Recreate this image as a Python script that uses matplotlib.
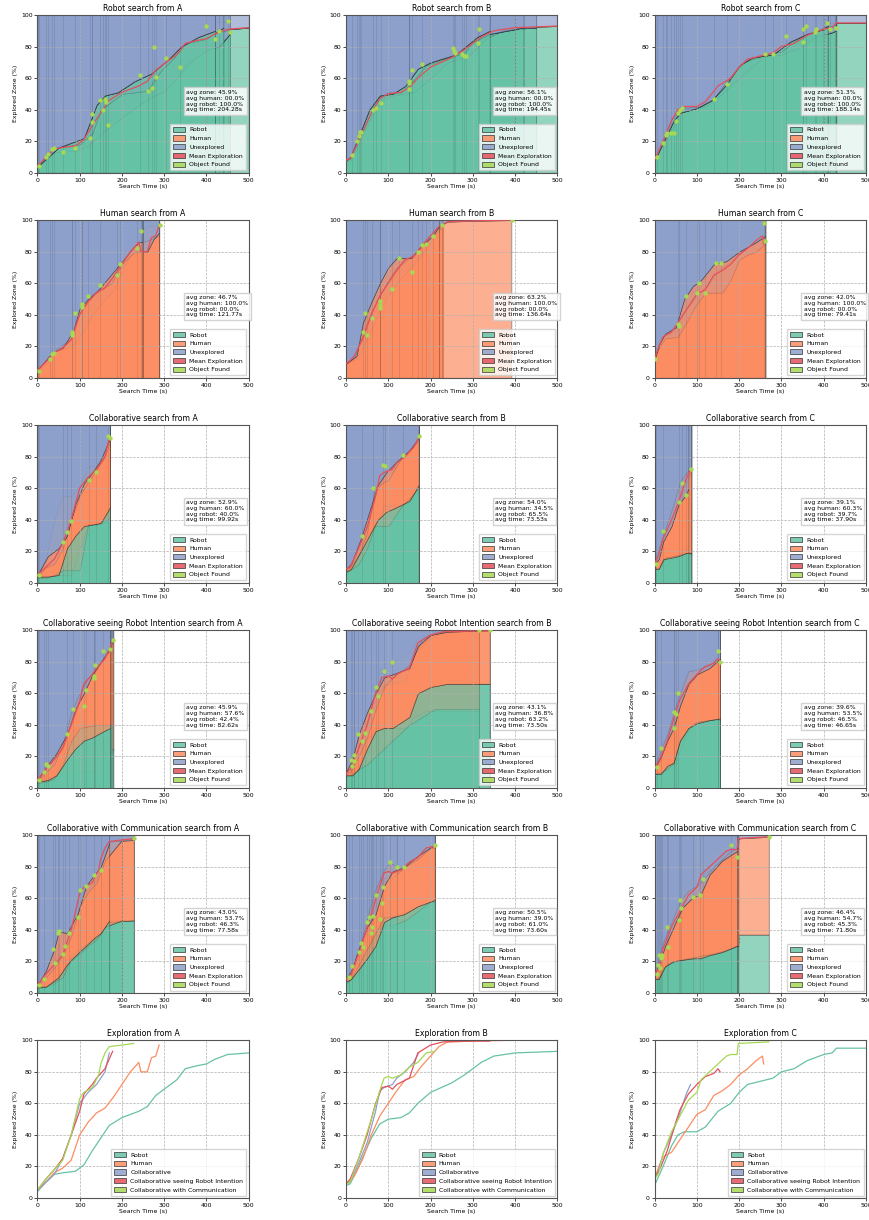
import matplotlib.pyplot as plt
from matplotlib.patches import Patch
from matplotlib.colors import to_rgba

GREEN = "#66c2a5"
ORANGE = "#fc8d62"
BLUE = "#8da0cb"
RED = "#e5505a"
LIME = "#a6d854"

STARTS = ["A", "B", "C"]
CONDITIONS = ["Robot", "Human", "Collaborative", "Collaborative seeing Robot Intention",
              "Collaborative with Communication"]

# summary box values, one row per condition, columns A, B, C
AVG_ZONE = [[45.9, 56.1, 51.3], [46.7, 63.2, 42.0], [52.9, 54.0, 39.1],
            [45.9, 43.1, 39.6], [43.0, 50.5, 46.4]]
AVG_HUMAN = [[0.0, 0.0, 0.0], [100.0, 100.0, 100.0], [60.0, 34.5, 60.3],
             [57.6, 36.8, 53.5], [53.7, 39.0, 54.7]]
AVG_ROBOT = [[100.0, 100.0, 100.0], [0.0, 0.0, 0.0], [40.0, 65.5, 39.7],
             [42.4, 63.2, 46.5], [46.3, 61.0, 45.3]]
AVG_TIME = [[204.28, 194.45, 188.14], [121.77, 136.64, 79.41], [99.92, 73.53, 37.90],
            [82.62, 73.50, 46.65], [77.58, 73.60, 71.80]]

# ---- mean exploration curves (time, explored %) ----
MEAN_ROBOT_A = [(0, 4), (20, 10), (40, 15), (60, 16), (90, 17), (110, 21), (130, 30), (150, 38),
                (170, 46), (200, 51), (240, 55), (260, 58), (280, 65), (300, 69), (330, 75),
                (350, 82), (380, 84), (400, 85), (420, 88), (440, 90), (450, 91), (500, 92)]
MEAN_ROBOT_B = [(0, 8), (10, 9), (30, 20), (60, 38), (80, 47), (100, 50), (130, 51), (150, 54),
                (170, 60), (200, 67), (250, 73), (280, 78), (300, 82), (320, 86), (350, 90),
                (400, 92), (500, 93)]
MEAN_ROBOT_C = [(0, 8), (20, 20), (40, 33), (55, 40), (70, 42), (100, 42), (120, 45), (150, 55),
                (180, 60), (200, 67), (220, 72), (250, 74), (280, 76), (300, 80), (330, 82),
                (360, 87), (400, 91), (420, 92), (430, 95), (500, 95)]
MEAN_HUMAN_A = [(0, 5), (20, 10), (40, 16), (60, 19), (80, 24), (90, 32), (100, 40), (120, 48),
                (140, 54), (160, 57), (180, 64), (200, 72), (220, 80), (240, 86), (245, 80),
                (260, 80), (270, 89), (280, 90), (288, 97)]
MEAN_HUMAN_B = [(0, 9), (10, 11), (20, 14), (40, 25), (60, 40), (80, 52), (100, 60), (120, 68),
                (140, 75), (160, 77), (180, 84), (200, 90), (220, 96), (240, 99), (300, 99.5),
                (390, 100)]
MEAN_HUMAN_C = [(0, 12), (10, 20), (20, 26), (40, 29), (60, 37), (80, 45), (100, 53), (120, 56),
                (140, 65), (160, 68), (180, 72), (200, 78), (220, 82), (240, 87), (255, 90),
                (258, 85)]
MEAN_COLLAB_A = [(0, 5), (20, 10), (40, 15), (60, 25), (80, 40), (100, 60), (120, 67), (140, 72),
                 (160, 80), (170, 92)]
MEAN_COLLAB_B = [(0, 9), (10, 10), (30, 22), (50, 35), (70, 55), (80, 68), (90, 70), (100, 71),
                 (110, 72), (120, 76), (140, 80), (160, 86), (172, 92)]
MEAN_COLLAB_C = [(0, 12), (10, 18), (20, 28), (40, 40), (55, 50), (65, 58), (75, 66), (85, 72)]
MEAN_RI_A = [(0, 5), (20, 12), (40, 18), (60, 25), (80, 40), (100, 55), (110, 66), (130, 72),
             (140, 76), (160, 82), (178, 93)]
MEAN_RI_B = [(0, 9), (10, 12), (30, 25), (50, 40), (70, 60), (85, 70), (100, 71), (110, 69),
             (120, 72), (150, 76), (170, 92), (200, 97), (230, 99), (300, 99.5), (340, 99.5)]
MEAN_RI_C = [(0, 12), (15, 20), (30, 30), (50, 48), (60, 56), (80, 66), (100, 72), (120, 77),
             (140, 79), (150, 82), (155, 80)]
MEAN_COMM_A = [(0, 5), (20, 12), (40, 18), (60, 24), (80, 40), (100, 63), (110, 67), (130, 70),
               (145, 78), (150, 85), (160, 92), (170, 96), (200, 97), (228, 98)]
MEAN_COMM_B = [(0, 9), (10, 10), (30, 25), (60, 50), (80, 68), (90, 76), (100, 77), (110, 76),
               (130, 78), (150, 83), (170, 86), (190, 92), (210, 93)]
MEAN_COMM_C = [(0, 12), (10, 16), (20, 28), (40, 42), (60, 52), (80, 62), (100, 67), (110, 75),
               (130, 80), (150, 85), (170, 90), (180, 91), (195, 91), (198, 98), (270, 99)]

# ---- object found points (time, explored %) ----
FOUND_ROBOT_A = [(3, 4), (20, 10), (25, 12), (35, 15), (40, 16), (60, 13), (90, 16), (125, 22),
                 (130, 32), (130, 37), (147, 46), (155, 40), (160, 47), (163, 45), (167, 30),
                 (243, 62), (262, 52), (272, 54), (275, 80), (280, 61), (305, 73), (337, 67),
                 (400, 93), (420, 85), (430, 90), (450, 96), (455, 89)]
FOUND_ROBOT_B = [(15, 11), (25, 20), (30, 23), (33, 26), (36, 26), (65, 40), (72, 41), (82, 44),
                 (148, 53), (148, 57), (150, 58), (157, 65), (180, 69), (253, 79), (255, 77),
                 (258, 76), (275, 75), (280, 74), (283, 74), (313, 82), (315, 91)]
FOUND_ROBOT_C = [(5, 10), (20, 19), (28, 24), (30, 25), (40, 25), (45, 25), (50, 33), (55, 38),
                 (60, 40), (65, 41), (140, 47), (172, 56), (262, 75), (280, 75), (310, 87),
                 (350, 83), (352, 91), (358, 93), (380, 89), (382, 91), (407, 95), (415, 91),
                 (428, 92)]
FOUND_HUMAN_A = [(3, 4), (30, 12), (35, 15), (40, 16), (82, 27), (82, 29), (90, 41), (105, 45),
                 (106, 47), (120, 52), (148, 59), (188, 65), (195, 72), (235, 82), (245, 93),
                 (290, 97)]
FOUND_HUMAN_B = [(40, 29), (45, 41), (50, 27), (62, 38), (80, 44), (80, 46), (80, 49), (110, 56),
                 (125, 76), (155, 67), (170, 80), (180, 84), (190, 85), (205, 90), (228, 97),
                 (393, 100)]
FOUND_HUMAN_C = [(0, 12), (55, 34), (58, 33), (75, 52), (100, 54), (105, 60), (120, 54),
                 (145, 73), (158, 73), (258, 98), (262, 87)]
FOUND_COLLAB_A = [(3, 5), (60, 26), (70, 32), (80, 39), (122, 65), (138, 70), (168, 93), (172, 92)]
FOUND_COLLAB_B = [(38, 30), (65, 60), (88, 75), (92, 74), (135, 81), (172, 93)]
FOUND_COLLAB_C = [(3, 12), (20, 33), (57, 51), (65, 63), (75, 56), (85, 72)]
FOUND_RI_A = [(3, 5), (15, 10), (20, 15), (25, 14), (70, 34), (85, 50), (110, 52), (115, 62),
              (135, 70), (135, 71), (137, 78), (155, 87), (172, 88), (178, 94)]
FOUND_RI_B = [(12, 18), (15, 14), (18, 17), (20, 21), (28, 34), (38, 30), (45, 35), (60, 49),
              (72, 64), (75, 58), (90, 74), (110, 80), (315, 100), (340, 100)]
FOUND_RI_C = [(5, 13), (15, 25), (45, 38), (45, 48), (50, 47), (55, 60), (150, 87), (155, 80)]
FOUND_COMM_A = [(3, 5), (15, 9), (38, 28), (42, 19), (48, 38), (50, 39), (60, 25), (65, 30),
                (75, 38), (95, 48), (100, 65), (115, 68), (133, 75), (150, 78), (228, 98)]
FOUND_COMM_B = [(8, 10), (15, 17), (30, 26), (35, 32), (40, 29), (50, 45), (55, 48), (60, 38),
                (62, 42), (65, 49), (70, 62), (80, 47), (85, 57), (88, 67), (103, 83), (120, 80),
                (138, 80), (210, 94)]
FOUND_COMM_C = [(5, 12), (8, 18), (10, 24), (12, 16), (15, 22), (18, 24), (30, 42), (32, 29),
                (58, 46), (60, 59), (62, 54), (92, 61), (108, 62), (115, 72), (180, 94), (195, 86),
                (270, 99)]

# ---- individual runs: (time, explored %) for single-agent, (time, explored %, robot %) for teams ----
RUNS_ROBOT_A = [
    [(0, 4), (40, 17), (80, 17), (100, 25), (120, 40), (150, 50), (170, 55), (250, 70), (300, 75),
     (330, 85), (370, 93), (400, 95), (450, 96)],
    [(0, 4), (40, 15), (100, 19), (130, 33), (160, 47), (200, 52), (240, 55), (280, 65), (320, 77),
     (370, 84), (420, 88), (455, 91), (500, 92)],
    [(0, 3), (40, 13), (90, 14), (120, 17), (160, 27), (200, 35), (250, 45), (300, 52), (330, 60),
     (360, 70), (400, 78), (430, 80), (455, 88)],
    [(0, 4), (40, 16), (100, 18), (130, 25), (150, 40), (200, 50), (260, 52), (290, 64), (320, 72),
     (350, 82), (400, 85), (440, 92)],
    [(0, 4), (50, 16), (110, 22), (140, 43), (160, 49), (190, 51), (230, 58), (270, 63), (310, 72),
     (340, 80), (380, 86), (420, 90)],
]
RUNS_ROBOT_B = [
    [(0, 8), (10, 9), (30, 22), (60, 40), (85, 50), (130, 52), (160, 62), (180, 70), (210, 70),
     (250, 77), (290, 88), (320, 91), (360, 92), (500, 93)],
    [(0, 8), (10, 9), (30, 20), (60, 38), (80, 46), (100, 50), (140, 51), (170, 57), (200, 67),
     (250, 73), (290, 80), (330, 87), (380, 91), (450, 92)],
    [(0, 7), (10, 8), (35, 22), (65, 38), (90, 47), (110, 49), (160, 51), (200, 60), (240, 70),
     (290, 74), (330, 85), (370, 90), (420, 92)],
    [(0, 8), (10, 9), (30, 22), (60, 39), (80, 48), (100, 51), (130, 51), (150, 56), (190, 68),
     (230, 72), (280, 76), (300, 83), (340, 88), (400, 91)],
    [(0, 8), (10, 10), (30, 23), (55, 40), (80, 49), (110, 50), (140, 55), (170, 66), (200, 70),
     (260, 75), (310, 86), (340, 90)],
]
RUNS_ROBOT_C = [
    [(0, 8), (20, 20), (40, 35), (55, 41), (100, 42), (130, 50), (160, 60), (190, 62), (220, 73),
     (260, 75), (300, 86), (340, 92), (380, 95), (430, 95), (500, 95)],
    [(0, 8), (20, 19), (40, 32), (60, 40), (110, 42), (140, 50), (170, 58), (200, 66), (230, 73),
     (270, 75), (300, 80), (330, 84), (360, 88), (400, 92), (430, 94)],
    [(0, 8), (20, 18), (45, 30), (65, 40), (120, 42), (160, 50), (190, 58), (200, 60), (260, 74),
     (300, 75), (340, 79), (380, 86), (420, 89), (428, 90)],
    [(0, 9), (20, 21), (40, 34), (60, 41), (110, 42), (140, 47), (170, 58), (210, 70), (250, 74),
     (300, 77), (340, 85), (380, 90), (410, 93)],
    [(0, 8), (25, 22), (45, 33), (60, 38), (100, 41), (135, 46), (170, 56), (200, 68), (230, 73),
     (280, 75), (320, 83), (360, 88), (400, 91)],
]
RUNS_HUMAN_A = [
    [(0, 5), (30, 15), (45, 30), (60, 44), (85, 44), (100, 48), (120, 52), (150, 58), (180, 66),
     (200, 74), (230, 82), (245, 93), (260, 96), (288, 97)],
    [(0, 5), (25, 12), (40, 17), (70, 20), (85, 28), (100, 42), (120, 50), (140, 55), (170, 60),
     (195, 72), (220, 80), (245, 86), (260, 87), (288, 90)],
    [(0, 4), (25, 10), (40, 17), (70, 19), (90, 22), (110, 30), (130, 40), (160, 50), (180, 55),
     (200, 68), (220, 78), (240, 80), (260, 80), (275, 88), (288, 92)],
    [(0, 5), (30, 14), (45, 18), (80, 25), (95, 38), (110, 46), (130, 52), (150, 56), (175, 60),
     (200, 72), (230, 80), (250, 80)],
    [(0, 5), (35, 16), (60, 19), (85, 30), (100, 44), (120, 50), (145, 56), (170, 64), (195, 72),
     (225, 82), (240, 86), (248, 86)],
]
RUNS_HUMAN_B = [
    [(0, 9), (20, 13), (40, 30), (60, 45), (80, 55), (100, 66), (120, 73), (140, 77), (160, 80),
     (180, 88), (200, 92), (220, 97), (230, 98)],
    [(0, 9), (20, 12), (40, 24), (60, 38), (80, 50), (100, 58), (120, 68), (140, 75), (170, 80),
     (200, 88), (230, 96)],
    [(0, 9), (25, 12), (45, 22), (60, 30), (80, 44), (100, 52), (120, 60), (140, 66), (160, 72),
     (190, 82), (210, 90), (228, 97)],
    [(0, 9), (20, 13), (40, 28), (60, 42), (80, 52), (100, 62), (120, 70), (150, 76), (180, 84),
     (200, 90), (220, 96), (240, 99), (300, 99.5), (390, 100)],
    [(0, 9), (25, 14), (40, 35), (60, 48), (80, 60), (100, 70), (120, 76), (155, 76), (180, 84),
     (205, 90), (220, 96)],
]
RUNS_HUMAN_C = [
    [(0, 12), (10, 20), (20, 26), (50, 28), (70, 40), (90, 55), (110, 60), (140, 70), (160, 75),
     (190, 80), (220, 88), (245, 92), (258, 98)],
    [(0, 12), (10, 20), (20, 26), (50, 30), (70, 42), (100, 52), (130, 60), (150, 68), (180, 74),
     (200, 80), (230, 84), (250, 88), (262, 87)],
    [(0, 12), (10, 19), (25, 25), (55, 26), (75, 35), (95, 45), (120, 54), (160, 54), (180, 62),
     (200, 75), (220, 78), (240, 80), (262, 85)],
    [(0, 12), (12, 22), (25, 28), (50, 32), (70, 50), (90, 58), (110, 62), (140, 72), (170, 74),
     (200, 80), (240, 86), (262, 90)],
]
RUNS_COLLAB_A = [
    [(0, 5, 3), (20, 15, 4), (40, 20, 5), (60, 25, 8), (80, 42, 15), (100, 60, 22), (120, 70, 30),
     (140, 74, 37), (160, 82, 40), (172, 93, 48)],
    [(0, 5, 4), (20, 16, 4), (40, 40, 5), (60, 55, 5), (80, 55, 5), (100, 62, 22), (120, 74, 37),
     (140, 74, 37), (160, 85, 38), (172, 92, 42)],
    [(0, 4, 3), (20, 10, 3), (40, 12, 5), (60, 22, 8), (80, 40, 8), (100, 55, 8), (120, 64, 37),
     (140, 72, 37), (160, 80, 40), (172, 90, 40)],
    [(0, 5, 4), (25, 17, 4), (50, 22, 5), (70, 30, 22), (90, 50, 30), (110, 63, 36), (130, 70, 37),
     (150, 78, 38), (172, 92, 48)],
]
RUNS_COLLAB_B = [
    [(0, 9, 7), (10, 10, 8), (30, 20, 15), (50, 35, 25), (70, 60, 36), (90, 72, 36), (110, 74, 38),
     (130, 80, 45), (150, 84, 50), (172, 92, 62)],
    [(0, 9, 7), (10, 10, 8), (30, 22, 18), (50, 38, 30), (70, 55, 36), (90, 68, 49), (110, 70, 49),
     (130, 78, 49), (150, 85, 53), (172, 91, 61)],
    [(0, 8, 7), (10, 10, 8), (30, 18, 12), (50, 32, 22), (68, 60, 36), (90, 64, 36), (100, 65, 36),
     (130, 79, 48), (172, 90, 60)],
    [(0, 9, 7), (12, 12, 9), (35, 28, 20), (55, 45, 30), (75, 62, 40), (95, 70, 45), (120, 77, 48),
     (150, 84, 52), (172, 92, 62)],
]
RUNS_COLLAB_C = [
    [(0, 12, 9), (10, 20, 9), (20, 30, 16), (40, 40, 17), (55, 52, 18), (65, 62, 19), (75, 68, 19),
     (87, 72, 18)],
    [(0, 11, 9), (10, 18, 9), (20, 28, 14), (40, 38, 17), (57, 51, 17), (70, 60, 22), (87, 72, 18)],
    [(0, 12, 9), (10, 22, 9), (25, 34, 16), (45, 50, 17), (60, 64, 18), (75, 70, 19), (87, 73, 19)],
    [(0, 12, 9), (10, 15, 9), (20, 26, 15), (40, 36, 16), (57, 50, 17), (75, 56, 19), (80, 60, 19)],
]
RUNS_RI_A = [
    [(0, 5, 4), (20, 16, 4), (40, 20, 5), (60, 30, 9), (80, 45, 10), (100, 60, 10), (120, 74, 10),
     (140, 76, 10), (160, 85, 20), (180, 93, 25)],
    [(0, 5, 4), (20, 12, 5), (40, 18, 8), (60, 25, 20), (80, 40, 35), (100, 55, 40), (120, 66, 40),
     (140, 76, 40), (160, 82, 40), (178, 94, 40)],
    [(0, 4, 3), (20, 10, 4), (40, 15, 6), (60, 28, 15), (80, 48, 30), (100, 60, 38), (120, 70, 39),
     (140, 75, 40), (160, 84, 40), (175, 90, 40)],
    [(0, 5, 4), (25, 15, 5), (45, 22, 8), (70, 34, 18), (90, 50, 25), (110, 60, 30), (130, 72, 32),
     (150, 80, 35), (172, 88, 38)],
]
RUNS_RI_B = [
    [(0, 9, 7), (10, 12, 10), (30, 32, 10), (50, 47, 20), (70, 63, 40), (90, 72, 45), (110, 80, 50),
     (150, 86, 50), (170, 95, 60), (210, 98, 64), (240, 100, 66), (340, 100, 66)],
    [(0, 9, 7), (10, 11, 8), (30, 25, 12), (50, 40, 30), (70, 56, 38), (90, 66, 38), (110, 66, 38),
     (140, 68, 38), (160, 85, 45), (190, 93, 49), (230, 99, 49), (315, 100, 49)],
    [(0, 9, 8), (10, 10, 8), (30, 20, 12), (50, 32, 15), (70, 50, 20), (90, 64, 25), (110, 70, 30),
     (150, 78, 40), (180, 94, 45), (210, 98, 50), (260, 100, 50), (315, 100, 50)],
    [(0, 10, 8), (15, 18, 8), (30, 34, 12), (50, 48, 25), (70, 60, 36), (90, 70, 38), (110, 72, 38),
     (150, 76, 45), (170, 90, 60), (200, 97, 64), (240, 99, 66), (340, 100, 66)],
]
RUNS_RI_C = [
    [(0, 12, 9), (15, 22, 9), (30, 35, 12), (50, 50, 20), (60, 58, 35), (80, 72, 40), (100, 75, 42),
     (120, 78, 43), (140, 82, 43), (155, 87, 44)],
    [(0, 11, 9), (15, 18, 9), (30, 28, 15), (50, 46, 15), (70, 60, 32), (90, 68, 40), (110, 76, 42),
     (130, 77, 43), (155, 80, 43)],
    [(0, 12, 9), (15, 25, 10), (30, 34, 12), (45, 48, 16), (60, 60, 30), (80, 74, 38), (100, 75, 42),
     (130, 78, 43), (150, 83, 44)],
    [(0, 12, 9), (15, 20, 9), (30, 30, 14), (45, 38, 16), (60, 52, 30), (80, 66, 38), (100, 72, 41),
     (130, 76, 43), (155, 82, 44)],
]
RUNS_COMM_A = [
    [(0, 5, 4), (20, 15, 4), (40, 25, 5), (60, 33, 12), (80, 48, 22), (100, 65, 28), (120, 68, 34),
     (140, 73, 35), (155, 86, 40), (170, 96, 46), (200, 97, 46), (228, 98, 46)],
    [(0, 5, 4), (20, 12, 4), (40, 18, 6), (60, 25, 14), (80, 40, 24), (100, 62, 28), (120, 66, 32),
     (140, 72, 35), (150, 80, 37), (170, 96, 45), (228, 97, 46)],
    [(0, 4, 3), (20, 10, 4), (40, 16, 7), (60, 24, 10), (80, 36, 22), (100, 55, 25), (120, 64, 30),
     (140, 70, 34), (160, 84, 42), (200, 97, 46)],
    [(0, 5, 4), (20, 14, 4), (40, 28, 8), (50, 39, 10), (70, 38, 18), (95, 50, 25), (115, 68, 30),
     (135, 75, 35), (150, 80, 38), (170, 95, 46)],
]
RUNS_COMM_B = [
    [(0, 9, 7), (10, 10, 8), (30, 25, 15), (50, 45, 30), (70, 62, 45), (90, 76, 50), (110, 77, 50),
     (130, 78, 50), (150, 82, 52), (170, 86, 55), (190, 92, 57), (210, 93, 59)],
    [(0, 8, 7), (10, 10, 8), (30, 22, 12), (50, 40, 25), (70, 55, 40), (90, 73, 43), (110, 73, 43),
     (140, 80, 46), (170, 85, 52), (200, 92, 58), (210, 92, 58)],
    [(0, 9, 7), (10, 11, 8), (30, 26, 18), (50, 48, 28), (70, 66, 38), (90, 78, 48), (103, 83, 48),
     (120, 80, 49)],
    [(0, 9, 7), (12, 14, 9), (30, 28, 15), (50, 42, 22), (70, 50, 30), (90, 68, 45), (110, 77, 48),
     (138, 80, 50), (170, 87, 55), (210, 94, 59)],
]
RUNS_COMM_C = [
    [(0, 12, 9), (10, 20, 9), (20, 30, 18), (40, 48, 20), (60, 60, 21), (80, 70, 22), (100, 80, 24),
     (120, 86, 25), (150, 92, 28), (180, 94, 30), (198, 95, 30), (200, 98, 37), (270, 99, 37)],
    [(0, 11, 9), (10, 16, 10), (20, 25, 15), (40, 38, 20), (60, 50, 21), (80, 58, 22), (100, 64, 22),
     (120, 76, 24), (150, 82, 26), (180, 86, 28), (198, 86, 30)],
    [(0, 12, 9), (10, 22, 9), (20, 32, 16), (40, 45, 20), (60, 58, 21), (80, 65, 22), (100, 68, 23),
     (115, 72, 24), (140, 80, 25), (180, 90, 28), (198, 92, 30)],
    [(0, 12, 9), (10, 18, 9), (25, 30, 17), (45, 42, 20), (65, 54, 21), (92, 61, 22), (108, 62, 22),
     (130, 75, 24), (160, 84, 26), (195, 90, 30)],
]

RUNS = [[RUNS_ROBOT_A, RUNS_ROBOT_B, RUNS_ROBOT_C],
        [RUNS_HUMAN_A, RUNS_HUMAN_B, RUNS_HUMAN_C],
        [RUNS_COLLAB_A, RUNS_COLLAB_B, RUNS_COLLAB_C],
        [RUNS_RI_A, RUNS_RI_B, RUNS_RI_C],
        [RUNS_COMM_A, RUNS_COMM_B, RUNS_COMM_C]]
MEANS = [[MEAN_ROBOT_A, MEAN_ROBOT_B, MEAN_ROBOT_C],
         [MEAN_HUMAN_A, MEAN_HUMAN_B, MEAN_HUMAN_C],
         [MEAN_COLLAB_A, MEAN_COLLAB_B, MEAN_COLLAB_C],
         [MEAN_RI_A, MEAN_RI_B, MEAN_RI_C],
         [MEAN_COMM_A, MEAN_COMM_B, MEAN_COMM_C]]
FOUND = [[FOUND_ROBOT_A, FOUND_ROBOT_B, FOUND_ROBOT_C],
         [FOUND_HUMAN_A, FOUND_HUMAN_B, FOUND_HUMAN_C],
         [FOUND_COLLAB_A, FOUND_COLLAB_B, FOUND_COLLAB_C],
         [FOUND_RI_A, FOUND_RI_B, FOUND_RI_C],
         [FOUND_COMM_A, FOUND_COMM_B, FOUND_COMM_C]]
PANEL_TITLES = ["Robot search", "Human search", "Collaborative search",
                "Collaborative seeing Robot Intention search", "Collaborative with Communication search"]
LINE_COLORS = [GREEN, ORANGE, BLUE, RED, LIME]

FS = 4.4
ALPHA = 0.7
EDGE = (0.12, 0.12, 0.12, 0.5)

plt.rcParams['font.family'] = 'DejaVu Sans'
fig, axes = plt.subplots(6, 3, figsize=(8.69, 12.2), dpi=100)
fig.subplots_adjust(left=0.043, right=0.9965, top=0.9877, bottom=0.018, wspace=0.46, hspace=0.30)


def style_axis(ax, title):
    ax.set_xlim(0, 500)
    ax.set_ylim(0, 100)
    ax.set_xticks(range(0, 501, 100))
    ax.set_yticks(range(0, 101, 20))
    ax.set_title(title, fontsize=5.6, pad=3)
    ax.set_xlabel("Search Time (s)", fontsize=FS, labelpad=1)
    ax.set_ylabel("Explored Zone (%)", fontsize=FS, labelpad=2)
    ax.tick_params(labelsize=FS, length=2, width=0.5, pad=1.5)
    ax.grid(True, linestyle="--", color="#b0b0b0", linewidth=0.5)
    for s in ax.spines.values():
        s.set_linewidth(0.8)
        s.set_color("#555555")


def add_legend(ax, colors, labels):
    handles = [Patch(facecolor=to_rgba(c, 0.85), edgecolor="#333333", linewidth=0.5, label=l)
               for c, l in zip(colors, labels)]
    ax.legend(handles=handles, loc="lower right", fontsize=FS, handlelength=2.0, handleheight=0.9,
              borderpad=0.5, labelspacing=0.5, handletextpad=0.7, borderaxespad=0.4,
              fancybox=False, framealpha=0.8, edgecolor="#cccccc")


for row in range(5):
    for col in range(3):
        ax = axes[row, col]
        for run in RUNS[row][col]:
            t = [p[0] for p in run]
            e = [p[1] for p in run]
            if row == 0:
                r = e
            elif row == 1:
                r = [0] * len(run)
            else:
                r = [p[2] for p in run]
            ax.fill_between(t, 0, r, facecolor=to_rgba(GREEN, ALPHA), edgecolor=EDGE, linewidth=0.5)
            ax.fill_between(t, r, e, facecolor=to_rgba(ORANGE, ALPHA), edgecolor=EDGE, linewidth=0.5)
            ax.fill_between(t, e, 100, facecolor=to_rgba(BLUE, ALPHA), edgecolor=EDGE, linewidth=0.5)
        ft = [p[0] for p in FOUND[row][col]]
        fy = [p[1] for p in FOUND[row][col]]
        ax.vlines(ft, 0, 100, colors="#222222", alpha=0.2, linewidth=0.4)
        mt = [p[0] for p in MEANS[row][col]]
        my = [p[1] for p in MEANS[row][col]]
        ax.plot(mt, my, color=RED, linewidth=0.9, zorder=4)
        ax.scatter(ft, fy, s=10, color=LIME, zorder=5, linewidths=0)
        style_axis(ax, f"{PANEL_TITLES[row]} from {STARTS[col]}")
        stats = (f"avg zone: {AVG_ZONE[row][col]:04.1f}%\n"
                 f"avg human: {AVG_HUMAN[row][col]:04.1f}%\n"
                 f"avg robot: {AVG_ROBOT[row][col]:04.1f}%\n"
                 f"avg time: {AVG_TIME[row][col]:.2f}s")
        ax.text(0.705, 0.525, stats, transform=ax.transAxes, fontsize=FS, va="top", ha="left",
                linespacing=1.2,
                bbox=dict(boxstyle="square,pad=0.4", facecolor="white", edgecolor="#cccccc", alpha=0.85))
        add_legend(ax, [GREEN, ORANGE, BLUE, RED, LIME],
                   ["Robot", "Human", "Unexplored", "Mean Exploration", "Object Found"])

for col in range(3):
    ax = axes[5, col]
    for row in range(5):
        mt = [p[0] for p in MEANS[row][col]]
        my = [p[1] for p in MEANS[row][col]]
        ax.plot(mt, my, color=LINE_COLORS[row], linewidth=0.9)
    style_axis(ax, f"Exploration from {STARTS[col]}")
    add_legend(ax, LINE_COLORS, CONDITIONS)

fig.savefig("out.png", dpi=100)
